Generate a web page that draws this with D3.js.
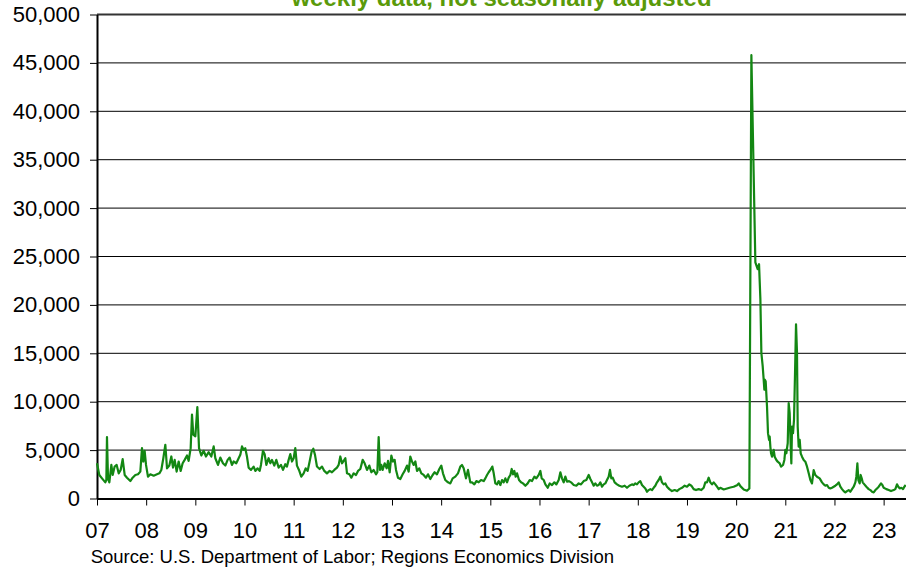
<!DOCTYPE html>
<html>
<head>
  <meta charset="utf-8">
  <title>Initial claims</title>
  <script src="https://d3js.org/d3.v7.min.js"></script>
  <style>
    body {
      margin: 0;
      background: #fff;
    }
    svg {
      display: block;
      font-family: Arial, "Liberation Sans", sans-serif;
    }
  </style>
</head>
<body>
  <div id="chart"></div>

  <script>
    // weekly initial claims as [decimal year, claims]
    const claims07to09 = [[2007.000,3640],[2007.047,2430],[2007.102,2080],[2007.169,1670],[2007.190,1910],[2007.203,6350],[2007.224,2080],[2007.251,1670],[2007.292,3470],[2007.319,2430],[2007.359,3300],[2007.400,3470],[2007.441,2600],[2007.481,2950],[2007.522,4060],[2007.563,2430],[2007.610,2150],[2007.678,1800],[2007.725,2150],[2007.780,2430],[2007.834,2500],[2007.881,2780],[2007.915,5200],[2007.942,3820],[2007.969,4930],[2007.997,3470],[2008.037,2255],[2008.085,2500],[2008.153,2360],[2008.220,2500],[2008.268,2600],[2008.308,2950],[2008.349,4160],[2008.390,5550],[2008.424,3120],[2008.471,3400],[2008.512,4340],[2008.546,3190],[2008.580,3990],[2008.620,2780],[2008.661,3820],[2008.702,2850],[2008.742,3640],[2008.783,3990],[2008.831,4440],[2008.864,3890],[2008.905,5200],[2008.932,8675],[2008.959,6590],[2009.000,6420],[2009.041,9440],[2009.075,5200],[2009.122,4440],[2009.169,4930],[2009.217,4340],[2009.271,4790],[2009.325,4340],[2009.373,5380],[2009.407,4160],[2009.461,3470]];
    const claims09to12 = [[2009.508,4230],[2009.562,3640],[2009.610,3400],[2009.657,3990],[2009.698,4230],[2009.745,3470],[2009.779,3820],[2009.833,3640],[2009.881,4160],[2009.915,4510],[2009.949,5380],[2009.983,5030],[2010.016,5200],[2010.050,4340],[2010.084,3190],[2010.132,2950],[2010.186,3300],[2010.220,2850],[2010.267,3120],[2010.308,2850],[2010.335,3470],[2010.376,4930],[2010.410,4580],[2010.444,3470],[2010.491,4160],[2010.525,3640],[2010.559,3990],[2010.606,3400],[2010.647,3990],[2010.695,3190],[2010.742,3470],[2010.783,2950],[2010.830,3540],[2010.864,3300],[2010.898,3990],[2010.932,4580],[2010.966,3820],[2011.000,4160],[2011.033,5200],[2011.067,3400],[2011.108,2950],[2011.155,2255],[2011.203,2600],[2011.244,3120],[2011.284,2850],[2011.325,3820],[2011.366,4860],[2011.400,5140],[2011.434,4510],[2011.474,3300],[2011.528,3050],[2011.576,3300],[2011.623,2850],[2011.677,2600],[2011.732,2850],[2011.779,2710],[2011.827,2950],[2011.881,3190],[2011.915,3470],[2011.949,4340],[2011.983,3640],[2012.030,3990]];
    const claims12to14 = [[2012.051,4160],[2012.085,2600],[2012.132,2500],[2012.173,2150],[2012.220,2600],[2012.268,2430],[2012.309,2850],[2012.356,3050],[2012.404,3990],[2012.444,3640],[2012.492,2950],[2012.539,3400],[2012.580,2710],[2012.627,2950],[2012.675,2500],[2012.702,2710],[2012.729,6350],[2012.756,2950],[2012.783,3470],[2012.810,2950],[2012.851,3640],[2012.892,3120],[2012.919,3890],[2012.953,2710],[2012.987,4440],[2013.020,3820],[2013.054,3990],[2013.082,2950],[2013.122,2150],[2013.170,2010],[2013.217,2500],[2013.258,2850],[2013.305,3400],[2013.339,2780],[2013.373,4340],[2013.407,3820],[2013.441,3470],[2013.475,3820],[2013.509,2850],[2013.556,3120],[2013.597,2600],[2013.644,2430],[2013.692,2150],[2013.732,2500],[2013.780,2010],[2013.827,2430],[2013.868,2710],[2013.915,2500],[2013.963,3050],[2014.003,3400],[2014.037,2600],[2014.085,1910],[2014.139,1670],[2014.187,1560],[2014.234,2080],[2014.288,2255],[2014.342,2600],[2014.390,3300],[2014.424,3470],[2014.458,3120],[2014.505,2080],[2014.546,2950],[2014.593,1670]];
    const claims14to17 = [[2014.628,1670],[2014.675,1460],[2014.716,1800],[2014.763,1670],[2014.811,1910],[2014.865,1800],[2014.899,2080],[2014.933,2430],[2014.967,2710],[2015.001,2950],[2015.041,3300],[2015.069,2600],[2015.102,1560],[2015.136,1460],[2015.170,1800],[2015.204,1390],[2015.238,1910],[2015.272,1670],[2015.306,2080],[2015.340,1670],[2015.374,2150],[2015.408,2430],[2015.435,3050],[2015.462,2500],[2015.489,2850],[2015.516,2255],[2015.543,2600],[2015.584,1910],[2015.625,1670],[2015.665,1560],[2015.713,1320],[2015.760,1560],[2015.801,1910],[2015.848,1800],[2015.896,2255],[2015.936,2080],[2015.984,2430],[2016.018,2850],[2016.045,2080],[2016.086,1910],[2016.120,1460],[2016.167,1110],[2016.208,1560],[2016.255,1390],[2016.303,1670],[2016.343,1460],[2016.391,1910],[2016.425,2710],[2016.458,2080],[2016.492,1670],[2016.526,2255],[2016.560,1735],[2016.601,1800],[2016.642,1670],[2016.696,1390],[2016.750,1320],[2016.797,1560],[2016.845,1460],[2016.899,1800],[2016.953,1910],[2017.001,2430],[2017.035,2010],[2017.069,1670],[2017.103,1320],[2017.136,1560]];
    const claims17to19 = [[2017.170,1320],[2017.204,1390],[2017.238,1670],[2017.272,1215],[2017.306,1460],[2017.339,1560],[2017.373,1910],[2017.407,2255],[2017.434,2950],[2017.461,2080],[2017.489,2150],[2017.529,1670],[2017.577,1460],[2017.624,1320],[2017.678,1215],[2017.733,1320],[2017.780,1110],[2017.828,1320],[2017.882,1460],[2017.916,1390],[2017.950,1560],[2017.983,1460],[2018.017,1670],[2018.051,1800],[2018.085,1390],[2018.119,1215],[2018.153,1040],[2018.187,695],[2018.221,870],[2018.255,970],[2018.289,870],[2018.322,1110],[2018.356,1320],[2018.390,1670],[2018.424,1910],[2018.458,2255],[2018.492,1670],[2018.526,1460],[2018.560,1560],[2018.594,1215],[2018.641,970],[2018.695,765],[2018.750,870],[2018.797,765],[2018.845,970],[2018.899,1110],[2018.953,1320],[2019.000,1215],[2019.048,1460],[2019.089,1320],[2019.136,970],[2019.184,870],[2019.238,970],[2019.292,870],[2019.340,1110],[2019.373,1670],[2019.407,1670],[2019.441,2150],[2019.475,1670],[2019.509,1460],[2019.543,1670],[2019.577,1460],[2019.611,1215],[2019.645,970],[2019.678,1110]];
    const claims19to21 = [[2019.747,935],[2019.815,1040],[2019.882,1140],[2019.950,1210],[2020.018,1380],[2020.052,1560],[2020.086,1280],[2020.154,935],[2020.221,800],[2020.269,1040],[2020.310,45800],[2020.391,24400],[2020.438,23700],[2020.466,24200],[2020.493,20600],[2020.513,15050],[2020.540,13670],[2020.560,12280],[2020.574,11250],[2020.581,12280],[2020.601,12110],[2020.628,9500],[2020.648,6750],[2020.669,6060],[2020.682,6400],[2020.696,5360],[2020.710,4670],[2020.730,4325],[2020.764,5020],[2020.784,4325],[2020.818,3980],[2020.845,3800],[2020.886,3630],[2020.913,3290],[2020.954,3460],[2020.981,3980],[2021.001,5020],[2021.021,4670],[2021.049,5710],[2021.069,9860],[2021.089,8820],[2021.110,5360],[2021.123,3630],[2021.137,7440],[2021.157,6750],[2021.177,8130],[2021.198,12980],[2021.218,17990],[2021.238,15050],[2021.252,7440],[2021.272,5360],[2021.293,6060],[2021.313,4670],[2021.340,4325],[2021.374,3980],[2021.408,3800],[2021.442,3290],[2021.476,2600],[2021.510,1900],[2021.543,1560],[2021.577,2940],[2021.611,2420],[2021.645,2250],[2021.699,2080]];
    const claims21to23 = [[2021.747,1670],[2021.781,1460],[2021.815,1320],[2021.849,1390],[2021.883,1110],[2021.916,1040],[2021.950,1110],[2021.984,1215],[2022.018,1320],[2022.052,1460],[2022.086,1670],[2022.120,1215],[2022.154,970],[2022.188,765],[2022.221,625],[2022.255,765],[2022.289,870],[2022.323,695],[2022.357,970],[2022.391,1215],[2022.425,1670],[2022.445,2255],[2022.466,3640],[2022.486,1910],[2022.513,1560],[2022.533,2430],[2022.554,2080],[2022.574,1670],[2022.608,1460],[2022.649,1215],[2022.696,970],[2022.730,870],[2022.764,695],[2022.798,625],[2022.832,870],[2022.866,1040],[2022.900,1215],[2022.947,1560],[2022.974,1390],[2023.001,1110],[2023.055,970],[2023.103,870],[2023.150,765],[2023.205,870],[2023.238,970],[2023.272,1460],[2023.299,1215],[2023.326,1040],[2023.360,1110],[2023.394,970],[2023.421,1215],[2023.449,1390]];

    const yearTicks = d3.range(2007, 2024);
    const valueTicks = d3.range(0, 50001, 5000);
    const titleText = "weekly data, not seasonally adjusted";
    const sourceText = "Source: U.S. Department of Labor; Regions Economics Division";

    const claims = [].concat(claims07to09, claims09to12, claims12to14, claims14to17,
      claims17to19, claims19to21, claims21to23);

    // Chart dimensions
    const width = 906;
    const height = 571;
    const margin = {top: 14.5, right: 0, bottom: 72.5, left: 97};

    const svg = d3.select("#chart")
      .append("svg")
      .attr("width", width)
      .attr("height", height);

    const x = d3.scaleLinear()
      .domain([2007, 2023.455])
      .range([margin.left, width - margin.right]);

    const y = d3.scaleLinear()
      .domain([0, 50000])
      .range([height - margin.bottom, margin.top]);

    // horizontal grid lines
    svg.append("g")
      .selectAll("line")
      .data(valueTicks.filter(d => d > 0))
      .join("line")
      .attr("x1", margin.left)
      .attr("x2", width - margin.right)
      .attr("y1", d => y(d))
      .attr("y2", d => y(d))
      .attr("stroke", d => d === 50000 ? "#333" : "#000")
      .attr("stroke-width", d => d === 50000 ? 2 : 1);

    // y axis
    const yAxis = svg.append("g")
      .attr("transform", "translate(" + margin.left + ",0)")
      .call(d3.axisLeft(y)
        .tickValues(valueTicks)
        .tickSize(7)
        .tickSizeOuter(0)
        .tickPadding(10)
        .tickFormat(d3.format(",")));

    // x axis
    const xAxis = svg.append("g")
      .attr("transform", "translate(0," + (height - margin.bottom) + ")")
      .call(d3.axisBottom(x)
        .tickValues(yearTicks)
        .tickSize(7)
        .tickSizeOuter(0)
        .tickPadding(17)
        .tickFormat(d => String(d).slice(2)));

    [yAxis, xAxis].forEach(function(axis) {
      axis.attr("font-family", null).attr("font-size", null);
      axis.selectAll("text")
        .attr("fill", "#000")
        .style("font-size", "22px");
      axis.selectAll("line").attr("stroke", "#000");
      axis.select(".domain").attr("stroke", "#000").attr("stroke-width", 2);
    });

    // the series
    const line = d3.line()
      .x(d => x(d[0]))
      .y(d => y(d[1]));

    svg.append("path")
      .datum(claims)
      .attr("fill", "none")
      .attr("stroke", "#138713")
      .attr("stroke-width", 2.2)
      .attr("stroke-linejoin", "round")
      .attr("d", line);

    // title (cut off at the top, as in the original)
    svg.append("text")
      .attr("x", (margin.left + width) / 2)
      .attr("y", 5.5)
      .attr("text-anchor", "middle")
      .attr("fill", "#5a9a0a")
      .style("font-size", "24px")
      .style("font-weight", "bold")
      .text(titleText);

    svg.append("text")
      .attr("x", 90.7)
      .attr("y", 562.5)
      .attr("fill", "#000")
      .style("font-size", "18.5px")
      .text(sourceText);
  </script>
</body>
</html>
